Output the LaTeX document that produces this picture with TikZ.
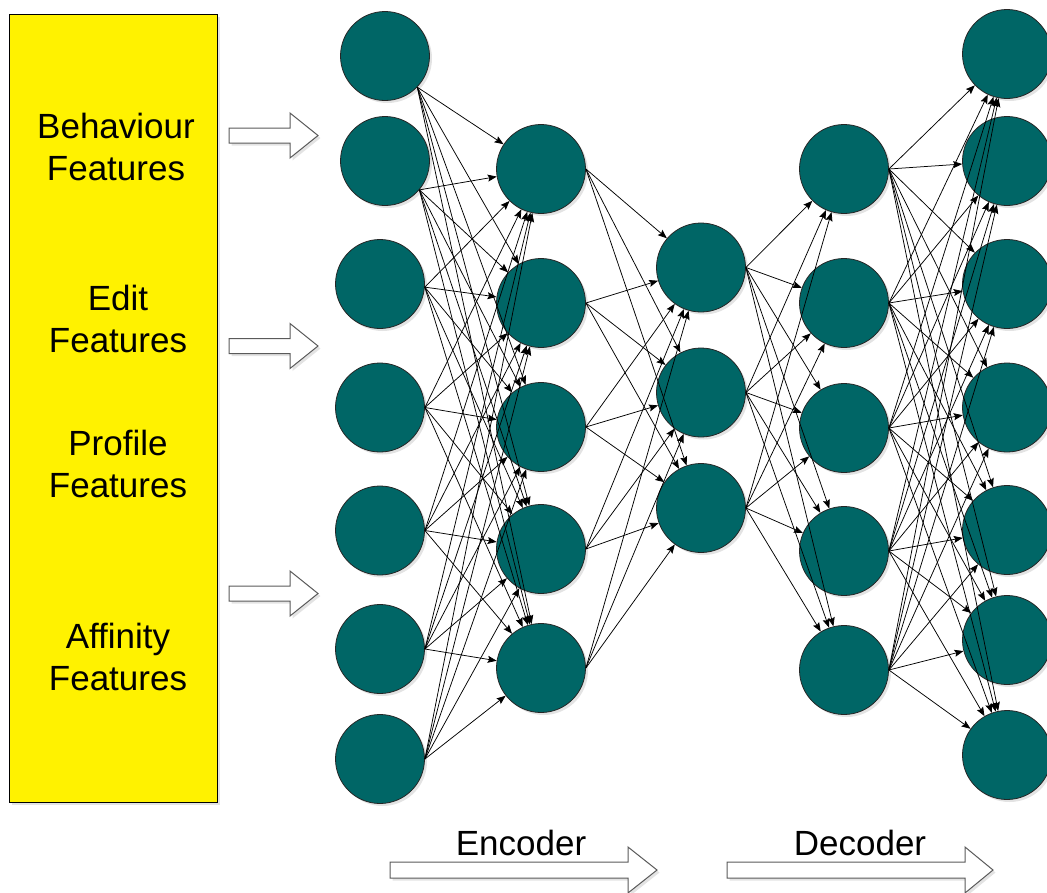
\documentclass[tikz,border=0pt]{standalone}
\usepackage{fontspec}
\setmainfont{Liberation Sans}
\usetikzlibrary{arrows.meta,shadows}
\definecolor{neuronfill}{RGB}{0,102,102}
\definecolor{arrowedge}{RGB}{90,90,90}

\begin{document}
\begin{tikzpicture}[x=1pt,y=-1pt,
  softshadow/.style={drop shadow={opacity=0.22, shadow xshift=2.5pt, shadow yshift=-2.5pt}},
  neuron/.style={circle, draw=black!85, line width=0.8pt, fill=neuronfill,
                 minimum size=89pt, inner sep=0pt, softshadow},
  link/.style={-{Stealth[length=9pt,width=7pt,inset=1.5pt]}, line width=0.75pt, black},
  hollow/.style={draw=arrowedge, line width=1pt, fill=white, softshadow, line join=miter},
  lbl/.style={font=\fontsize{35}{42}\selectfont, align=center, inner sep=0pt},
]
\useasboundingbox (0,0) rectangle (1047,892);

% feature panel
\node[draw=black, line width=1pt, fill=yellow, minimum width=208pt, minimum height=788pt,
      inner sep=0pt, softshadow] (panel) at (113,408) {};
\node[lbl] (behaviour) at (116,147) {Behaviour\\Features};
\node[lbl] (edit)      at (118,319) {Edit\\Features};
\node[lbl] (profile)   at (118,464) {Profile\\Features};
\node[lbl] (affinity)  at (118,657) {Affinity\\Features};

% input arrows into the first layer
\foreach \c in {135.5, 346, 593.5} {
  \draw[hollow] (229,\c-7.5) -- (290,\c-7.5) -- (290,\c-22.5) -- (318,\c)
        -- (290,\c+22.5) -- (290,\c+7.5) -- (229,\c+7.5) -- cycle;
}

% layers
\foreach \y [count=\i] in {56,161,284,407.5,530.5,649,759}
  \node[neuron] (a\i) at ({\i<3 ? 385 : 380},\y) {};
\foreach \y [count=\i] in {169,303,427,549,668}
  \node[neuron] (b\i) at (541,\y) {};
\foreach \y [count=\i] in {267.5,392.5,508}
  \node[neuron] (c\i) at (701,\y) {};
\foreach \y [count=\i] in {169,303,428,551,670}
  \node[neuron] (d\i) at (844,\y) {};
\foreach \y [count=\i] in {54,161,284,407.5,530,640,755}
  \node[neuron] (e\i) at (1007,\y) {};

% fully connected links, each leaving its source from one exit point
\foreach \i/\out in {1/-44,2/-40,3/-4,4/east,5/east,6/east,7/east}
  \foreach \j in {1,...,5} \draw[link] (a\i.\out) -- (b\j);
\foreach \i in {1,...,5} \foreach \j in {1,...,3} \draw[link] (b\i.east) -- (c\j);
\foreach \i in {1,...,3} \foreach \j in {1,...,5} \draw[link] (c\i.east) -- (d\j);
\foreach \i in {1,...,5} \foreach \j in {1,...,7} \draw[link] (d\i.east) -- (e\j);

% encoder / decoder direction arrows
\draw[hollow] (390,862) -- (628,862) -- (628,847) -- (657,870) -- (628,893)
      -- (628,878) -- (390,878) -- cycle;
\draw[hollow] (727,862) -- (965,862) -- (965,847) -- (993,870) -- (965,893)
      -- (965,878) -- (727,878) -- cycle;
\node[lbl, anchor=base] (enc) at (521,855) {Encoder};
\node[lbl, anchor=base] (dec) at (860,855) {Decoder};
\end{tikzpicture}
\end{document}
